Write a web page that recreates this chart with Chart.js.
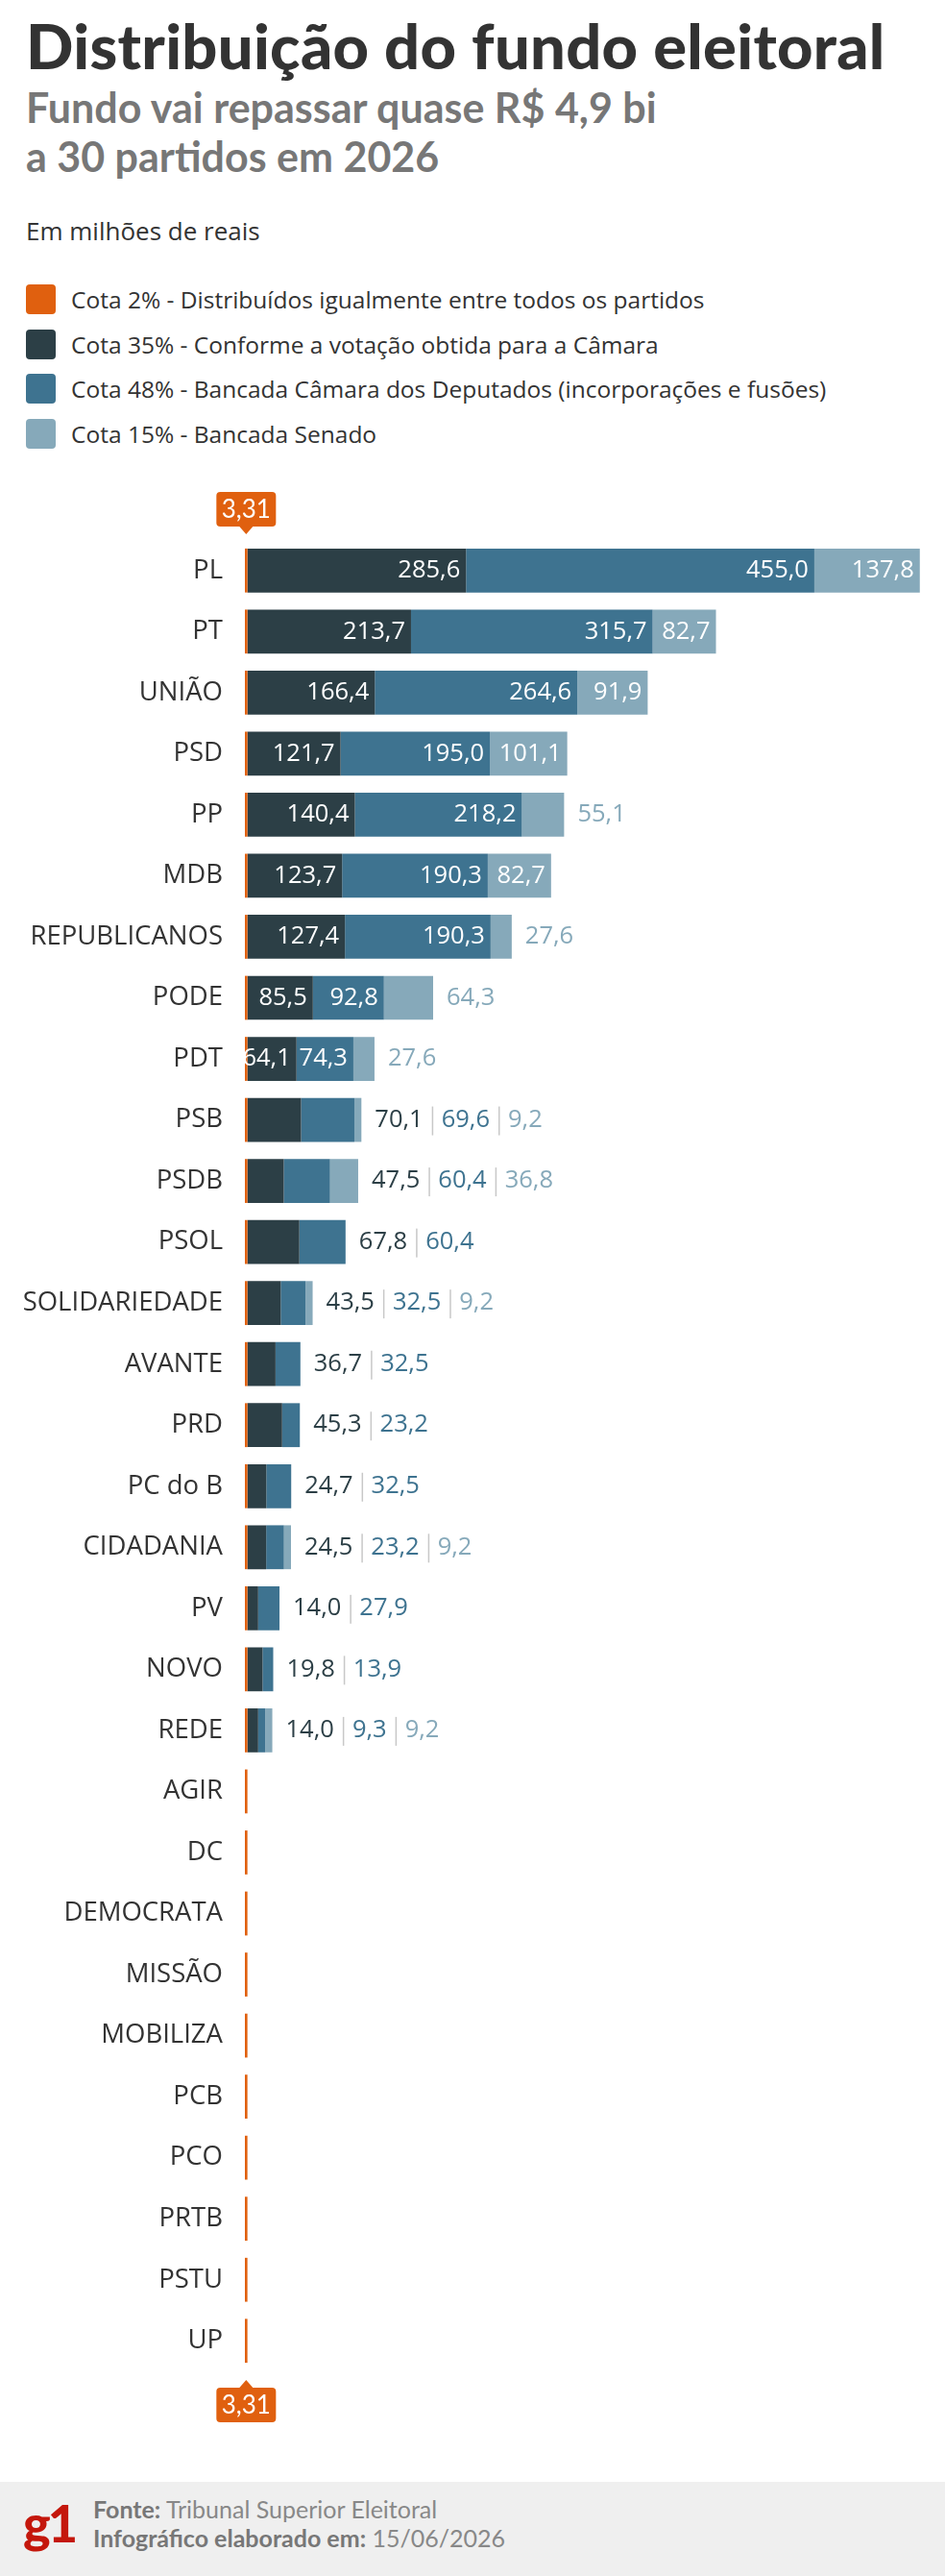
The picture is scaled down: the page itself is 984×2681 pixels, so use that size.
<!DOCTYPE html>
<html><head><meta charset="utf-8">
<script src="https://cdn.jsdelivr.net/npm/chart.js@4/dist/chart.umd.min.js"></script>
<style>
body{margin:0;width:984px;height:2681px;position:relative;background:#fff;font-family:"Open Sans",sans-serif;overflow:hidden}
.t{position:absolute;left:27px;top:8px;font:900 65px Lato;color:#333;letter-spacing:0.3px}
.s{position:absolute;left:27px;top:86px;font:700 43px/51px Lato;color:#777}
.u{position:absolute;left:27px;top:222px;font:400 26px "Open Sans";color:#333}
.lg{position:absolute;left:27px;font:400 24.5px "Open Sans";color:#333;display:flex;align-items:center}
.lg i{display:inline-block;width:31px;height:31px;border-radius:4px;margin-right:16px}
#wrap{position:absolute;left:0;top:480px;width:984px;height:2060px}
.ft{position:absolute;left:0;top:2583px;width:984px;height:98px;background:#efefef}
.g1{position:absolute;left:24px;top:10px;font:900 54px Lato;color:#c4170c;letter-spacing:-3px}
.fl{position:absolute;left:97px;font:400 25px Lato;color:#888}
.fl b{color:#777;font-weight:700}
</style></head><body>
<div class="t">Distribuição do fundo eleitoral</div>
<div class="s">Fundo vai repassar quase R$ 4,9 bi<br>a 30 partidos em 2026</div>
<div class="u">Em milhões de reais</div>
<div id="legend"></div>
<div id="wrap"><canvas id="c" width="984" height="2060"></canvas></div>
<div class="ft"><div class="g1">g1</div>
<div class="fl" style="top:13px"><b>Fonte:</b> Tribunal Superior Eleitoral</div>
<div class="fl" style="top:43px"><b>Infográfico elaborado em:</b> 15/06/2026</div></div>
<script>
const parties=["PL","PT","UNIÃO","PSD","PP","MDB","REPUBLICANOS","PODE","PDT","PSB","PSDB","PSOL","SOLIDARIEDADE","AVANTE","PRD","PC do B","CIDADANIA","PV","NOVO","REDE","AGIR","DC","DEMOCRATA","MISSÃO","MOBILIZA","PCB","PCO","PRTB","PSTU","UP"];
const cota2=parties.map(()=>3.31);
const cota35=[285.6,213.7,166.4,121.7,140.4,123.7,127.4,85.5,64.1,70.1,47.5,67.8,43.5,36.7,45.3,24.7,24.5,14.0,19.8,14.0,0,0,0,0,0,0,0,0,0,0];
const cota48=[455.0,315.7,264.6,195.0,218.2,190.3,190.3,92.8,74.3,69.6,60.4,60.4,32.5,32.5,23.2,32.5,23.2,27.9,13.9,9.3,0,0,0,0,0,0,0,0,0,0];
const cota15=[137.8,82.7,91.9,101.1,55.1,82.7,27.6,64.3,27.6,9.2,36.8,0,9.2,0,0,0,9.2,0,0,9.2,0,0,0,0,0,0,0,0,0,0];
const insideCount=[3,3,3,3,2,3,2,2,2,0,0,0,0,0,0,0,0,0,0,0,0,0,0,0,0,0,0,0,0,0];
const legendLabels=["Cota 2% - Distribuídos igualmente entre todos os partidos","Cota 35% - Conforme a votação obtida para a Câmara","Cota 48% - Bancada Câmara dos Deputados (incorporações e fusões)","Cota 15% - Bancada Senado"];
const colors=["#e0600f","#2c3f46","#3e7390","#86a9ba"];
const lg=document.getElementById('legend');
legendLabels.forEach((l,i)=>{const d=document.createElement('div');d.className='lg';d.style.top=(295+i*46.5)+'px';d.innerHTML='<i style="background:'+colors[i]+'"></i>'+l;lg.appendChild(d);});
const fmt=v=>v.toFixed(1).replace('.',',');
const labelPlugin={id:'lbl',afterDatasetsDraw(ch){
 const ctx=ch.ctx;ctx.save();ctx.textBaseline='middle';ctx.font='400 25.5px "Open Sans"';
 const metas=[1,2,3].map(d=>ch.getDatasetMeta(d));
 const data=[cota35,cota48,cota15];
 parties.forEach((p,i)=>{
  let y=metas[0].data[i].y;let lastEnd=ch.getDatasetMeta(0).data[i].x;
  const outs=[];
  for(let k=0;k<3;k++){const v=data[k][i];if(!v)continue;const el=metas[k].data[i];lastEnd=Math.max(lastEnd,el.x);
   if(k<insideCount[i]){ctx.fillStyle='#fff';ctx.textAlign='right';ctx.fillText(fmt(v),el.x-6,y);}else outs.push([v,k]);}
  let x=lastEnd+14;ctx.textAlign='left';
  outs.forEach(([v,k],j)=>{if(j>0){ctx.fillStyle='#c8c8c8';ctx.fillRect(x+5,y-14,1.5,30);x+=15;}
   ctx.fillStyle=colors[k+1];const s=fmt(v);ctx.fillText(s,x,y);x+=ctx.measureText(s).width+4;});
 });
 const xs=ch.scales.x.getPixelForValue(cota2[0]/2);
 const drawBadge=(cy,up)=>{ctx.fillStyle='#e0600f';const w=62,h=36;const x0=xs-w/2;
  ctx.beginPath();ctx.roundRect(x0,cy-h/2,w,h,4);ctx.fill();
  ctx.beginPath();if(up){ctx.moveTo(xs-7,cy-h/2);ctx.lineTo(xs,cy-h/2-8);ctx.lineTo(xs+7,cy-h/2);}else{ctx.moveTo(xs-7,cy+h/2);ctx.lineTo(xs,cy+h/2+8);ctx.lineTo(xs+7,cy+h/2);}ctx.fill();
  ctx.fillStyle='#fff';ctx.textAlign='center';ctx.font='400 26px Lato';ctx.fillText(cota2[0].toFixed(2).replace('.',','),xs,cy+1);};
 drawBadge(ch.chartArea.top-32,false);drawBadge(ch.chartArea.bottom+35,true);
 ctx.restore();}};
new Chart(document.getElementById('c'),{type:'bar',
 data:{labels:parties,datasets:[cota2,cota35,cota48,cota15].map((d,i)=>({label:legendLabels[i],data:d,backgroundColor:colors[i],barPercentage:0.72,categoryPercentage:1}))},
 options:{indexAxis:'y',responsive:false,animation:false,devicePixelRatio:1,
  layout:{padding:{top:82,bottom:72,right:26,left:0}},
  plugins:{legend:{display:false},tooltip:{enabled:false}},
  scales:{x:{stacked:true,display:false,min:0,max:882},
   y:{stacked:true,grid:{display:false},border:{display:false},afterFit(s){s.width=255;},
    ticks:{color:'#333',font:{family:'Open Sans',size:27.5},padding:15}}}},
 plugins:[labelPlugin]});
</script></body></html>
